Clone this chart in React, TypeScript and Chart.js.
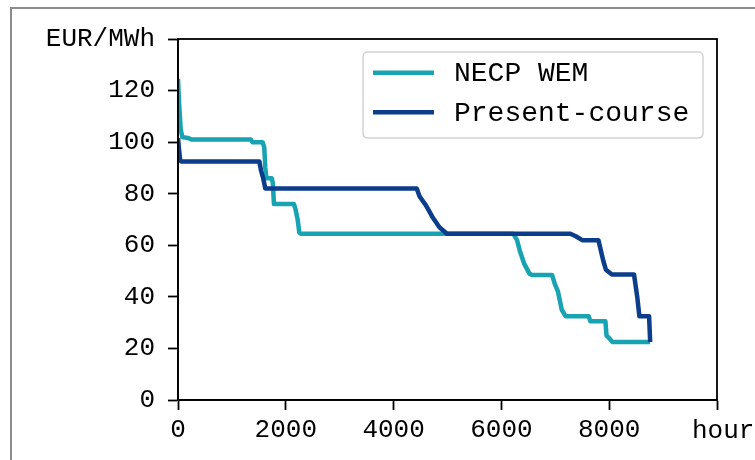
import React, { useEffect, useRef } from "react";
import { Chart, registerables } from "chart.js";

Chart.register(...registerables);

const seriesNames = ["NECP WEM", "Present-course"];
const seriesColors = ["#17A3B1", "#0B3D8A"];

const necpHours = [0, 20, 50, 80, 200, 250, 1350, 1380, 1570, 1600, 1620, 1640, 1740, 1760, 1780, 2150, 2180, 2220, 2250, 2280, 6220, 6290, 6340, 6420, 6520, 6570, 6940, 6990, 7050, 7120, 7190, 7620, 7650, 7930, 7950, 8000, 8060, 8760];
const necpPrice = [124.5, 115, 105, 102, 101.5, 101, 101, 100, 100, 98, 90, 86, 86, 84, 76, 76, 74, 70, 65, 64.5, 64.5, 62, 58, 53, 49, 48.5, 48.5, 45, 42, 35, 32.5, 32.5, 30.5, 30.5, 25, 24, 22.5, 22.5];

const presentHours = [0, 20, 40, 60, 1510, 1540, 1580, 1620, 4430, 4480, 4600, 4720, 4850, 4990, 7280, 7380, 7500, 7800, 7890, 7940, 8050, 8460, 8520, 8560, 8740, 8760];
const presentPrice = [101.5, 97, 93, 92.5, 92.5, 89, 86, 82, 82, 79, 75.5, 71, 67, 64.5, 64.5, 63.5, 62, 62, 54, 50.5, 48.7, 48.7, 40, 32.5, 32.5, 22.5];

const xTicks = [0, 2000, 4000, 6000, 8000, 10000];
const yTicks = [0, 20, 40, 60, 80, 100, 120, 140];
const xUnitLabel = "hour";
const yUnitLabel = "EUR/MWh";

const FONT = "'Liberation Mono', 'Courier New', monospace";

export default function App() {
  const ref = useRef<HTMLCanvasElement | null>(null);

  useEffect(() => {
    const canvas = ref.current;
    if (!canvas) return;

    const framePlugin = {
      id: "framePlugin",
      afterDraw(chart: any) {
        const { ctx, chartArea } = chart;
        ctx.save();
        ctx.strokeStyle = "#000";
        ctx.lineWidth = 1.8;
        ctx.strokeRect(chartArea.left, chartArea.top, chartArea.right - chartArea.left, chartArea.bottom - chartArea.top);

        // x unit label
        ctx.fillStyle = "#000";
        ctx.font = `26px ${FONT}`;
        ctx.textAlign = "left";
        ctx.textBaseline = "middle";
        ctx.fillText(xUnitLabel, 692, 431);

        // legend
        const lx = 363, ly = 52, lw = 340, lh = 86, r = 5;
        ctx.beginPath();
        ctx.moveTo(lx + r, ly);
        ctx.lineTo(lx + lw - r, ly);
        ctx.quadraticCurveTo(lx + lw, ly, lx + lw, ly + r);
        ctx.lineTo(lx + lw, ly + lh - r);
        ctx.quadraticCurveTo(lx + lw, ly + lh, lx + lw - r, ly + lh);
        ctx.lineTo(lx + r, ly + lh);
        ctx.quadraticCurveTo(lx, ly + lh, lx, ly + lh - r);
        ctx.lineTo(lx, ly + r);
        ctx.quadraticCurveTo(lx, ly, lx + r, ly);
        ctx.closePath();
        ctx.fillStyle = "rgba(255,255,255,0.85)";
        ctx.fill();
        ctx.strokeStyle = "#d4d4d4";
        ctx.lineWidth = 1.5;
        ctx.stroke();

        const rows = [72.7, 112.3];
        chart.data.datasets.forEach((ds: any, i: number) => {
          const y = rows[i];
          ctx.strokeStyle = ds.borderColor;
          ctx.lineWidth = 4.5;
          ctx.beginPath();
          ctx.moveTo(373, y);
          ctx.lineTo(434, y);
          ctx.stroke();
          ctx.fillStyle = "#000";
          ctx.font = `28px ${FONT}`;
          ctx.textAlign = "left";
          ctx.textBaseline = "middle";
          ctx.fillText(ds.label, 454, y + 1);
        });
        ctx.restore();
      },
    };

    const chart = new Chart(canvas, {
      type: "line",
      data: {
        datasets: [
          {
            label: seriesNames[0],
            data: necpHours.map((h, i) => ({ x: h, y: necpPrice[i] })),
            borderColor: seriesColors[0],
            backgroundColor: seriesColors[0],
            borderWidth: 4.5,
            pointRadius: 0,
            tension: 0,
            order: 1,
            borderJoinStyle: "round",
          },
          {
            label: seriesNames[1],
            data: presentHours.map((h, i) => ({ x: h, y: presentPrice[i] })),
            borderColor: seriesColors[1],
            backgroundColor: seriesColors[1],
            borderWidth: 4.5,
            pointRadius: 0,
            tension: 0,
            order: 0,
            borderJoinStyle: "round",
          },
        ],
      },
      options: {
        responsive: false,
        animation: false,
        layout: { padding: { left: 0, top: 39, right: 38, bottom: 0 } },
        plugins: { legend: { display: false }, tooltip: { enabled: false } },
        scales: {
          x: {
            type: "linear",
            min: 0,
            max: 10000,
            afterBuildTicks: (scale: any) => {
              scale.ticks = xTicks.map((v) => ({ value: v }));
            },
            afterFit: (scale: any) => {
              scale.height = 60;
            },
            ticks: {
              color: "#000",
              font: { family: FONT, size: 26 },
              padding: 5,
              maxRotation: 0,
              autoSkip: false,
              callback: (v: any) => (v === 10000 ? "" : String(v)),
            },
            grid: { drawOnChartArea: false, drawTicks: true, tickLength: 10, tickColor: "#000", tickWidth: 1.8 },
            border: { display: true, color: "#000", width: 1.8 },
          },
          y: {
            type: "linear",
            min: 0,
            max: 140,
            afterBuildTicks: (scale: any) => {
              scale.ticks = yTicks.map((v) => ({ value: v }));
            },
            afterFit: (scale: any) => {
              scale.width = 178;
            },
            ticks: {
              color: "#000",
              font: { family: FONT, size: 26 },
              padding: 13,
              autoSkip: false,
              callback: (v: any) => (v === 140 ? yUnitLabel : String(v)),
            },
            grid: { drawOnChartArea: false, drawTicks: true, tickLength: 10, tickColor: "#000", tickWidth: 1.8 },
            border: { display: true, color: "#000", width: 1.8 },
          },
        },
      },
      plugins: [framePlugin],
    });

    return () => chart.destroy();
  }, []);

  return (
    <div style={{ position: "fixed", left: 0, top: 0, width: 755, height: 460, overflow: "hidden", background: "#fff" }}>
      <div
        style={{
          position: "absolute",
          left: 10,
          top: 7,
          width: 800,
          height: 500,
          border: "2px solid #8c8c8c",
          boxSizing: "border-box",
        }}
      />
      <canvas ref={ref} width={755} height={460} style={{ position: "absolute", left: 0, top: 0, width: 755, height: 460 }} />
    </div>
  );
}
